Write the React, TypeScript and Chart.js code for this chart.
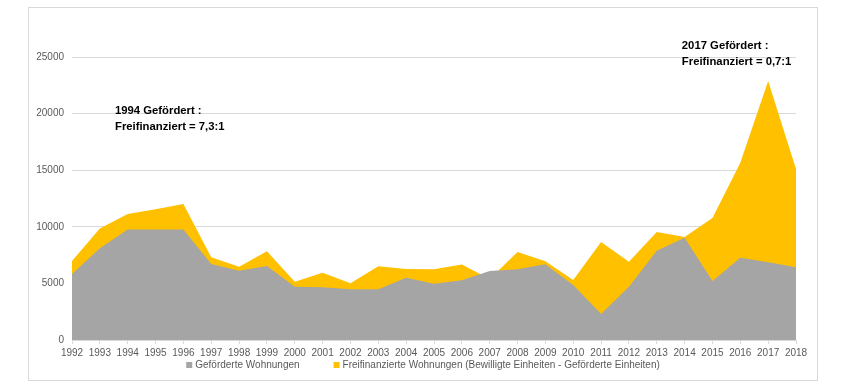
import { useEffect, useRef } from "react";
import { Chart, registerables } from "chart.js";

Chart.register(...registerables);

const years = [
  "1992", "1993", "1994", "1995", "1996", "1997", "1998", "1999", "2000", "2001",
  "2002", "2003", "2004", "2005", "2006", "2007", "2008", "2009", "2010", "2011",
  "2012", "2013", "2014", "2015", "2016", "2017", "2018",
];

// Geförderte Wohnungen
const gefoerdert = [
  5830, 8100, 9770, 9770, 9770, 6710, 6120, 6535, 4710, 4650,
  4475, 4475, 5505, 4975, 5270, 6090, 6240, 6700, 4855, 2295,
  4710, 7885, 9035, 5210, 7270, 6860, 6420,
];

// Bewilligte Einheiten (upper edge of the yellow area)
const bewilligt = [
  6975, 9860, 11125, 11540, 12010, 7300, 6475, 7830, 5150, 5945,
  5005, 6505, 6270, 6240, 6680, 5385, 7770, 6950, 5300, 8650,
  6915, 9535, 9100, 10770, 15660, 22870, 15100,
];

const seriesLabels = [
  "Geförderte Wohnungen",
  "Freifinanzierte Wohnungen (Bewilligte Einheiten - Geförderte Einheiten)",
];

const yMin = 0;
const yMax = 25000;
const yStep = 5000;

const annotations = [
  { x: 1.544, y: 20200, lines: ["1994 Gefördert :", "Freifinanziert = 7,3:1"] },
  { x: 21.9, y: 26000, lines: ["2017 Gefördert :", "Freifinanziert = 0,7:1"] },
];

const GREY = "#A5A5A5";
const YELLOW = "#FFC000";
const TEXT = "#595959";
const GRID = "#D9D9D9";
const FONT = "'Liberation Sans', Arial, sans-serif";

const annotationPlugin = {
  id: "annotationText",
  afterDatasetsDraw(chart: any) {
    const { ctx, scales } = chart;
    ctx.save();
    ctx.fillStyle = "#000000";
    ctx.font = `bold 11.3px ${FONT}`;
    ctx.textAlign = "left";
    ctx.textBaseline = "middle";
    annotations.forEach((a) => {
      const px = scales.x.getPixelForValue(a.x);
      const py = scales.y.getPixelForValue(a.y);
      a.lines.forEach((line, i) => {
        ctx.fillText(line, px, py + i * 16);
      });
    });
    ctx.restore();
  },
};

const legendPlugin = {
  id: "customLegend",
  afterDraw(chart: any) {
    const { ctx, width } = chart;
    const box = 6;
    const textGap = 3;
    const itemGap = 34;
    const y = chart.height - 15;
    ctx.save();
    ctx.font = `10px ${FONT}`;
    ctx.textBaseline = "middle";
    ctx.textAlign = "left";
    const items = chart.data.datasets.map((d: any) => ({
      label: d.label as string,
      color: d.backgroundColor as string,
      w: ctx.measureText(d.label).width,
    }));
    const total =
      items.reduce((s: number, it: any) => s + box + textGap + it.w, 0) +
      itemGap * (items.length - 1);
    let x = width / 2 - total / 2;
    items.forEach((it: any) => {
      ctx.fillStyle = it.color;
      ctx.fillRect(x, y - box / 2, box, box);
      ctx.fillStyle = TEXT;
      ctx.fillText(it.label, x + box + textGap, y + 0.5);
      x += box + textGap + it.w + itemGap;
    });
    ctx.restore();
  },
};

export default function App() {
  const canvasRef = useRef<HTMLCanvasElement | null>(null);

  useEffect(() => {
    if (!canvasRef.current) return;
    const chart = new Chart(canvasRef.current, {
      type: "line",
      data: {
        labels: years,
        datasets: [
          {
            label: seriesLabels[0],
            data: gefoerdert,
            backgroundColor: GREY,
            borderColor: "rgba(0,0,0,0)",
            borderWidth: 0,
            fill: "origin",
            pointRadius: 0,
            tension: 0,
          },
          {
            label: seriesLabels[1],
            data: bewilligt,
            backgroundColor: YELLOW,
            borderColor: "rgba(0,0,0,0)",
            borderWidth: 0,
            fill: "origin",
            pointRadius: 0,
            tension: 0,
          },
        ],
      },
      options: {
        animation: false,
        responsive: true,
        maintainAspectRatio: false,
        layout: { padding: { top: 49, right: 21, left: 0, bottom: 0 } },
        plugins: {
          legend: { display: false },
          tooltip: { enabled: false },
        },
        scales: {
          x: {
            type: "category",
            offset: false,
            grid: {
              drawOnChartArea: false,
              drawTicks: true,
              tickLength: 4,
              color: GRID,
            },
            border: { display: true, color: GRID },
            ticks: {
              color: TEXT,
              font: { family: FONT, size: 10 },
              padding: 3,
              maxRotation: 0,
              autoSkip: false,
            },
            afterFit(scale: any) {
              scale.height = 40;
            },
          },
          y: {
            min: yMin,
            max: yMax,
            grid: { color: GRID, drawTicks: false },
            border: { display: false },
            ticks: {
              stepSize: yStep,
              color: TEXT,
              font: { family: FONT, size: 10 },
              padding: 8,
              callback: (v: any) => String(v),
            },
            afterFit(scale: any) {
              scale.width = 43;
            },
          },
        },
      },
      plugins: [annotationPlugin, legendPlugin],
    });
    return () => chart.destroy();
  }, []);

  return (
    <div
      style={{
        position: "absolute",
        left: 28,
        top: 7,
        width: 790,
        height: 374,
        border: "1px solid #D9D9D9",
        boxSizing: "border-box",
        background: "#fff",
      }}
    >
      <canvas ref={canvasRef} />
    </div>
  );
}
